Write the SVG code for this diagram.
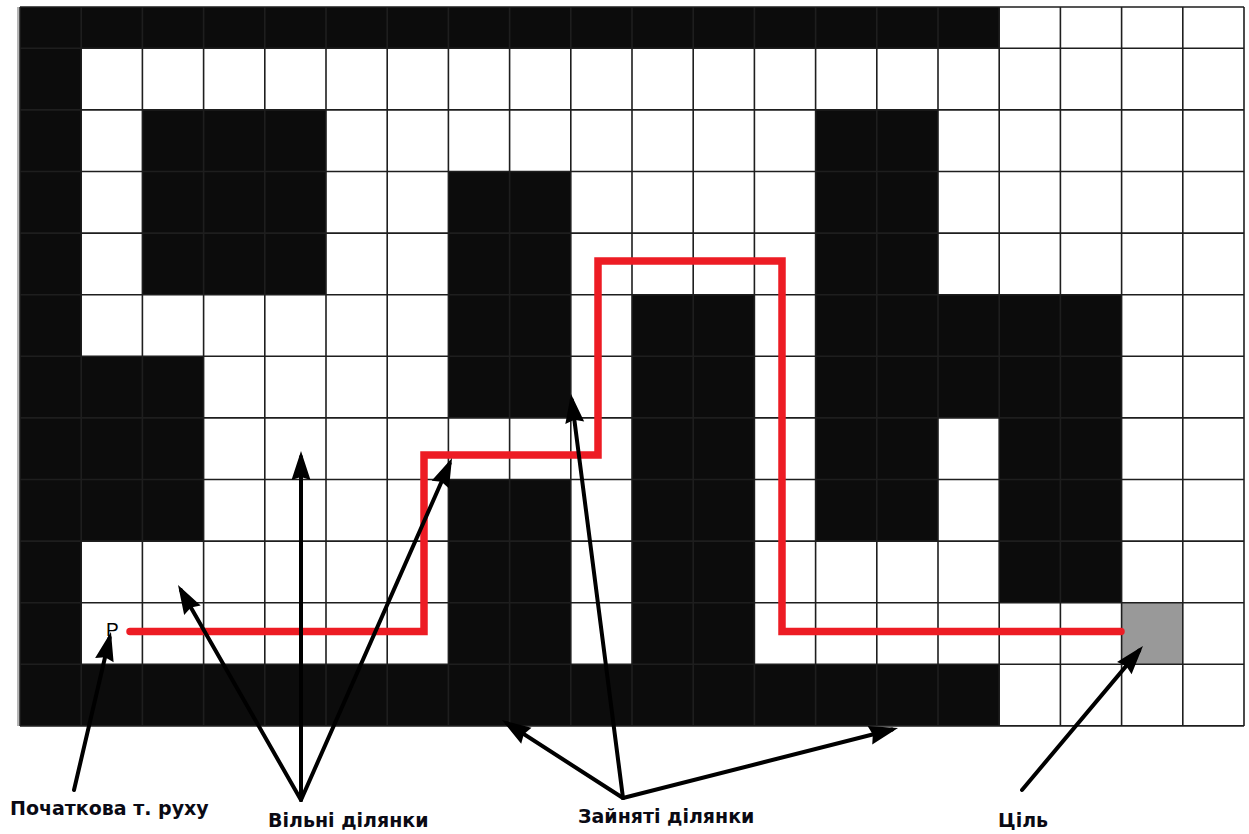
<svg xmlns="http://www.w3.org/2000/svg" width="1249" height="834" viewBox="0 0 1249 834">
<style>
.blk{fill:#0c0c0c}
.grid{fill:none;stroke:#1e1e1e;stroke-width:1.6}
.route{fill:none;stroke:#ED1C24;stroke-width:7.5;stroke-linecap:round;stroke-linejoin:miter}
.conn{fill:none;stroke:#000;stroke-width:4;stroke-linecap:round}
.lbl{font-family:"DejaVu Sans","Verdana",sans-serif;font-weight:bold;font-size:19px;fill:#0a0a14}
.p{font-family:"Liberation Sans","Arial",sans-serif;font-size:19px;fill:#000}
</style>
<defs>
<marker id="ah" markerUnits="userSpaceOnUse" markerWidth="40" markerHeight="30" viewBox="0 0 40 30" refX="29" refY="15" orient="auto">
<path d="M35 15 L6 5.5 L9 15 L6 24.5 Z" fill="#000"/>
</marker>
</defs>
<rect x="0" y="0" width="1249" height="834" fill="#fff"/>
<g id="board">
<rect x="17" y="7" width="2" height="719" fill="#b5b5b5"/>
<rect class="blk" x="20" y="7" width="979.2" height="41.3"/>
<rect class="blk" x="20" y="48.3" width="61.2" height="677.6"/>
<rect class="blk" x="142.4" y="109.9" width="183.6" height="184.8"/>
<rect class="blk" x="81.2" y="356.3" width="122.4" height="184.8"/>
<rect class="blk" x="448.4" y="171.5" width="122.4" height="246.4"/>
<rect class="blk" x="448.4" y="479.5" width="122.4" height="184.8"/>
<rect class="blk" x="632" y="294.7" width="122.4" height="369.6"/>
<rect class="blk" x="815.6" y="109.9" width="122.4" height="431.2"/>
<rect class="blk" x="938" y="294.7" width="183.6" height="123.2"/>
<rect class="blk" x="999.2" y="417.9" width="122.4" height="184.8"/>
<rect class="blk" x="20" y="664.3" width="979.2" height="61.6"/>
<rect x="1121.6" y="602.7" width="61.2" height="61.6" fill="#999"/>
<path class="grid" d="M20 7V725.9M81.2 7V725.9M142.4 7V725.9M203.6 7V725.9M264.8 7V725.9M326 7V725.9M387.2 7V725.9M448.4 7V725.9M509.6 7V725.9M570.8 7V725.9M632 7V725.9M693.2 7V725.9M754.4 7V725.9M815.6 7V725.9M876.8 7V725.9M938 7V725.9M999.2 7V725.9M1060.4 7V725.9M1121.6 7V725.9M1182.8 7V725.9M1244 7V725.9M20 7H1244M20 48.3H1244M20 109.9H1244M20 171.5H1244M20 233.1H1244M20 294.7H1244M20 356.3H1244M20 417.9H1244M20 479.5H1244M20 541.1H1244M20 602.7H1244M20 664.3H1244M20 725.9H1244"/>
</g>
<g id="route">
<polyline class="route" points="130,631.5 424,631.5 424,455 598,455 598,261 782,261 782,631.5 1121,631.5"/>
</g>
<g id="start-mark">
<text class="p" x="106" y="636">P</text>
</g>
<g id="label-start">
<text class="lbl" x="10" y="815">Початкова т. руху</text>
</g>
<g id="label-free">
<text class="lbl" x="268" y="827">Вільні ділянки</text>
</g>
<g id="label-busy">
<text class="lbl" x="578" y="823">Зайняті ділянки</text>
</g>
<g id="label-goal">
<text class="lbl" x="998" y="827">Ціль</text>
</g>
<g id="connectors">
<line class="conn" x1="74" y1="790" x2="109.6" y2="637.8" marker-end="url(#ah)"/>
<line class="conn" x1="301" y1="800" x2="181" y2="590.2" marker-end="url(#ah)"/>
<line class="conn" x1="301" y1="800" x2="301" y2="457" marker-end="url(#ah)"/>
<line class="conn" x1="301" y1="800" x2="449.6" y2="463.5" marker-end="url(#ah)"/>
<line class="conn" x1="623" y1="798" x2="507" y2="723.3" marker-end="url(#ah)"/>
<line class="conn" x1="623" y1="798" x2="571.8" y2="400" marker-end="url(#ah)"/>
<line class="conn" x1="623" y1="798" x2="892.2" y2="729.5" marker-end="url(#ah)"/>
<line class="conn" x1="1022" y1="790" x2="1139.1" y2="650.6" marker-end="url(#ah)"/>
</g>
</svg>
